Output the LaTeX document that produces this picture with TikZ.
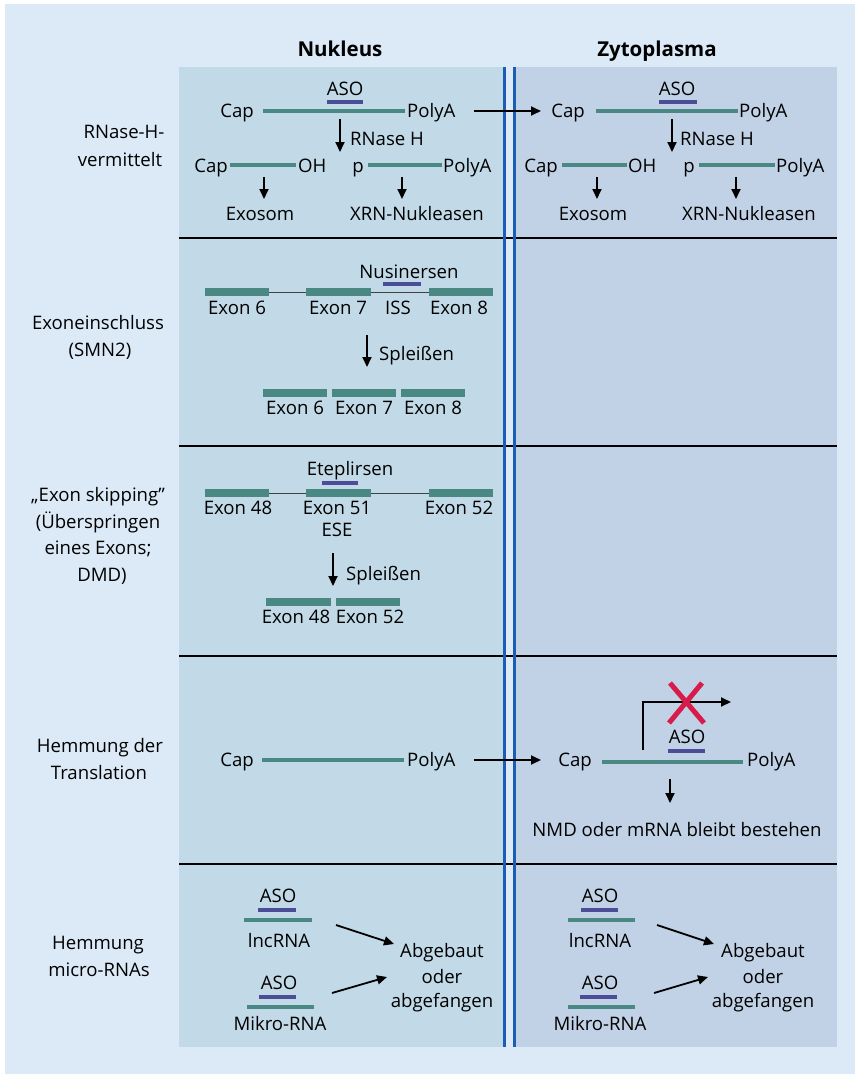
\documentclass[tikz,border=0pt]{standalone}
\usepackage{fontspec}
\setmainfont{Open Sans}
\usetikzlibrary{arrows.meta}
\definecolor{bgout}{HTML}{DCEAF7}
\definecolor{nucbg}{HTML}{C2DAE7}
\definecolor{zytbg}{HTML}{C1D2E6}
\definecolor{tealrna}{HTML}{4A8884}
\definecolor{asoc}{HTML}{4B4E96}
\definecolor{divblue}{HTML}{1B5DB0}
\definecolor{redx}{HTML}{D81B4A}
\newcommand\mainfs{\fontsize{18.6}{22}\selectfont}
\newcommand\headfs{\fontsize{20.5}{24}\selectfont\bfseries}
\tikzset{
 lab/.style={inner sep=0pt, anchor=base, font=\mainfs},
 labw/.style={lab, anchor=base west},
 labe/.style={lab, anchor=base east},
 head/.style={inner sep=0pt, anchor=base, font=\headfs},
 rna/.style={draw=tealrna, line width=4pt},
 aso/.style={draw=asoc, line width=4pt},
 exon/.style={draw=tealrna, line width=8pt},
 intron/.style={draw=black!75, line width=1pt},
 arr/.style={draw=black, line width=1.8pt, -{Triangle[length=10pt,width=9pt]}},
 sepline/.style={draw=black, line width=2pt},
 divline/.style={draw=divblue, line width=3pt},
}
\begin{document}
\begin{tikzpicture}[x=1pt,y=-1pt]
\useasboundingbox (0,0) rectangle (855,1074);
\fill[white] (0,0) rectangle (855,1074);
\fill[bgout] (5,4) rectangle (855,1074);
\fill[nucbg] (179,67) rectangle (503,1047);
\fill[zytbg] (516,67) rectangle (837,1047);
% separators
\foreach \yy in {238,446,656,864} \draw[sepline] (179,\yy) -- (837,\yy);
% dividers
\draw[divline] (504.5,67) -- (504.5,1047);
\draw[divline] (514.5,67) -- (514.5,1047);
% headers
\node[head] (hnuc) at (340,56) {Nukleus};
\node[head] (hzyt) at (657,56) {Zytoplasma};
% left labels
\node[lab] (l1a) at (124,138) {RNase-H-};
\node[lab] (l1b) at (120,166) {vermittelt};
\node[lab] (l2a) at (98,329) {Exoneinschluss};
\node[lab] (l2b) at (100,356) {(SMN2)};
\node[lab] (l3a) at (98,501) {„Exon skipping”};
\node[lab] (l3b) at (98,528) {(Überspringen};
\node[lab] (l3c) at (98,554) {eines Exons;};
\node[lab] (l3d) at (102,581) {DMD)};
\node[lab] (l4a) at (100,752) {Hemmung der};
\node[lab] (l4b) at (99,779) {Translation};
\node[lab] (l5a) at (98,949) {Hemmung};
\node[lab] (l5b) at (99,976) {micro-RNAs};

% ===== Row 1 Nucleus =====
\node[lab] (n1aso) at (345,95) {ASO};
\draw[aso] (327,102) -- (363,102);
\node[lab] (n1cap) at (237,117) {Cap};
\draw[rna] (263,111) -- (405,111);
\node[labw] (n1pa) at (407,117) {PolyA};
\coordinate (n1ds) at (340,119); \coordinate (n1de) at (340,152);
\draw[arr] (n1ds) -- (n1de);
\node[labw] (n1rh) at (350,145) {RNase H};
\node[labe] (n1cap2) at (228,172) {Cap};
\draw[rna] (230,165) -- (296,165);
\node[labw] (n1oh) at (298,172) {OH};
\node[labe] (n1p) at (364,172) {p};
\draw[rna] (368,165) -- (442,165);
\node[labw] (n1pa2) at (443,172) {PolyA};
\coordinate (n1a1s) at (264,177); \coordinate (n1a1e) at (264,199);
\coordinate (n1a2s) at (402,177); \coordinate (n1a2e) at (402,199);
\draw[arr] (n1a1s) -- (n1a1e);
\draw[arr] (n1a2s) -- (n1a2e);
\node[lab] (n1exo) at (260,220) {Exosom};
\node[lab] (n1xrn) at (417,220) {XRN-Nukleasen};
% ===== Row 1 Zytoplasma =====
\node[lab] (z1aso) at (677,95) {ASO};
\draw[aso] (659,102) -- (697,102);
\node[lab] (z1cap) at (568,117) {Cap};
\draw[rna] (596,111) -- (738,111);
\node[labw] (z1pa) at (739,117) {PolyA};
\coordinate (z1ds) at (672,119); \coordinate (z1de) at (672,152);
\draw[arr] (z1ds) -- (z1de);
\node[labw] (z1rh) at (680,145) {RNase H};
\node[labe] (z1cap2) at (558,172) {Cap};
\draw[rna] (562,165) -- (627,165);
\node[labw] (z1oh) at (628,172) {OH};
\node[labe] (z1p) at (695,172) {p};
\draw[rna] (699,165) -- (775,165);
\node[labw] (z1pa2) at (776,172) {PolyA};
\coordinate (z1a1s) at (597,177); \coordinate (z1a1e) at (597,199);
\coordinate (z1a2s) at (736,177); \coordinate (z1a2e) at (736,199);
\draw[arr] (z1a1s) -- (z1a1e);
\draw[arr] (z1a2s) -- (z1a2e);
\node[lab] (z1exo) at (593,220) {Exosom};
\node[lab] (z1xrn) at (749,220) {XRN-Nukleasen};
% cross arrow row 1
\coordinate (c1s) at (474,111); \coordinate (c1e) at (541,111);
\draw[arr] (c1s) -- (c1e);

% ===== Row 2 =====
\node[lab] (n2nus) at (409,278) {Nusinersen};
\draw[aso] (383,284) -- (421,284);
\draw[intron] (269,292) -- (306,292);
\draw[intron] (371,292) -- (429,292);
\draw[exon] (205,292) -- (269,292);
\draw[exon] (306,292) -- (371,292);
\draw[exon] (429,292) -- (493,292);
\node[lab] (n2e6) at (237,314) {Exon 6};
\node[lab] (n2e7) at (338,314) {Exon 7};
\node[lab] (n2iss) at (398,314) {ISS};
\node[lab] (n2e8) at (459,314) {Exon 8};
\coordinate (n2ds) at (367,335); \coordinate (n2de) at (367,367);
\draw[arr] (n2ds) -- (n2de);
\node[labw] (n2spl) at (379,360) {Spleißen};
\draw[exon] (263,393) -- (327,393);
\draw[exon] (332,393) -- (396,393);
\draw[exon] (401,393) -- (465,393);
\node[lab] (n2s6) at (295,414) {Exon 6};
\node[lab] (n2s7) at (364,414) {Exon 7};
\node[lab] (n2s8) at (433,414) {Exon 8};

% ===== Row 3 =====
\node[lab] (n3ete) at (350,475) {Eteplirsen};
\draw[aso] (322,483) -- (358,483);
\draw[intron] (269,493) -- (306,493);
\draw[intron] (371,493) -- (429,493);
\draw[exon] (205,493) -- (269,493);
\draw[exon] (306,493) -- (371,493);
\draw[exon] (429,493) -- (493,493);
\node[lab] (n3e48) at (238,514) {Exon 48};
\node[lab] (n3e51) at (337,514) {Exon 51};
\node[lab] (n3ese) at (337,536) {ESE};
\node[lab] (n3e52) at (459,514) {Exon 52};
\coordinate (n3ds) at (333,553); \coordinate (n3de) at (333,586);
\draw[arr] (n3ds) -- (n3de);
\node[labw] (n3spl) at (346,580) {Spleißen};
\draw[exon] (266,602) -- (331,602);
\draw[exon] (336,602) -- (400,602);
\node[lab] (n3s48) at (296,623) {Exon 48};
\node[lab] (n3s52) at (370,623) {Exon 52};

% ===== Row 4 =====
\node[lab] (n4cap) at (237,766) {Cap};
\draw[rna] (262,760) -- (404,760);
\node[labw] (n4pa) at (407,766) {PolyA};
\coordinate (c4s) at (474,760); \coordinate (c4e) at (541,760);
\draw[arr] (c4s) -- (c4e);
\node[labe] (z4cap) at (592,766) {Cap};
\draw[rna] (602,762) -- (743,762);
\node[labw] (z4pa) at (747,766) {PolyA};
\node[lab] (z4aso) at (687,743) {ASO};
\draw[aso] (668,751) -- (705,751);
\coordinate (z4ts) at (643,750); \coordinate (z4tc) at (643,702); \coordinate (z4te) at (731,702);
\draw[arr] (z4ts) -- (z4tc) -- (z4te);
\coordinate (xa) at (670,683); \coordinate (xb) at (704,723);
\coordinate (xc) at (702,683); \coordinate (xd) at (669,723);
\draw[redx, line width=5pt] (xa) -- (xb);
\draw[redx, line width=5pt] (xc) -- (xd);
\coordinate (z4ds) at (670,779); \coordinate (z4de) at (670,803);
\draw[arr] (z4ds) -- (z4de);
\node[lab] (z4nmd) at (677,836) {NMD oder mRNA bleibt bestehen};

% ===== Row 5 Nucleus =====
\node[lab] (n5aso1) at (278,902) {ASO};
\draw[aso] (258,910) -- (296,910);
\draw[rna] (244,920) -- (312,920);
\node[lab] (n5lnc) at (279,947) {lncRNA};
\node[lab] (n5aso2) at (279,989) {ASO};
\draw[aso] (259,997) -- (296,997);
\draw[rna] (247,1007) -- (314,1007);
\node[lab] (n5mir) at (280,1030) {Mikro-RNA};
\node[lab] (n5ab1) at (442,957) {Abgebaut};
\node[lab] (n5ab2) at (442,983) {oder};
\node[lab] (n5ab3) at (442,1007) {abgefangen};
\coordinate (n5a1s) at (336,925); \coordinate (n5a1e) at (394,944);
\coordinate (n5a2s) at (332,993); \coordinate (n5a2e) at (387,977);
\draw[arr] (n5a1s) -- (n5a1e);
\draw[arr] (n5a2s) -- (n5a2e);
% ===== Row 5 Zytoplasma =====
\node[lab] (z5aso1) at (600,902) {ASO};
\draw[aso] (581,910) -- (618,910);
\draw[rna] (568,920) -- (635,920);
\node[lab] (z5lnc) at (600,947) {lncRNA};
\node[lab] (z5aso2) at (600,989) {ASO};
\draw[aso] (580,997) -- (617,997);
\draw[rna] (568,1007) -- (635,1007);
\node[lab] (z5mir) at (600,1030) {Mikro-RNA};
\node[lab] (z5ab1) at (763,957) {Abgebaut};
\node[lab] (z5ab2) at (763,983) {oder};
\node[lab] (z5ab3) at (763,1007) {abgefangen};
\coordinate (z5a1s) at (657,925); \coordinate (z5a1e) at (714,944);
\coordinate (z5a2s) at (654,993); \coordinate (z5a2e) at (708,977);
\draw[arr] (z5a1s) -- (z5a1e);
\draw[arr] (z5a2s) -- (z5a2e);
\end{tikzpicture}
\end{document}
